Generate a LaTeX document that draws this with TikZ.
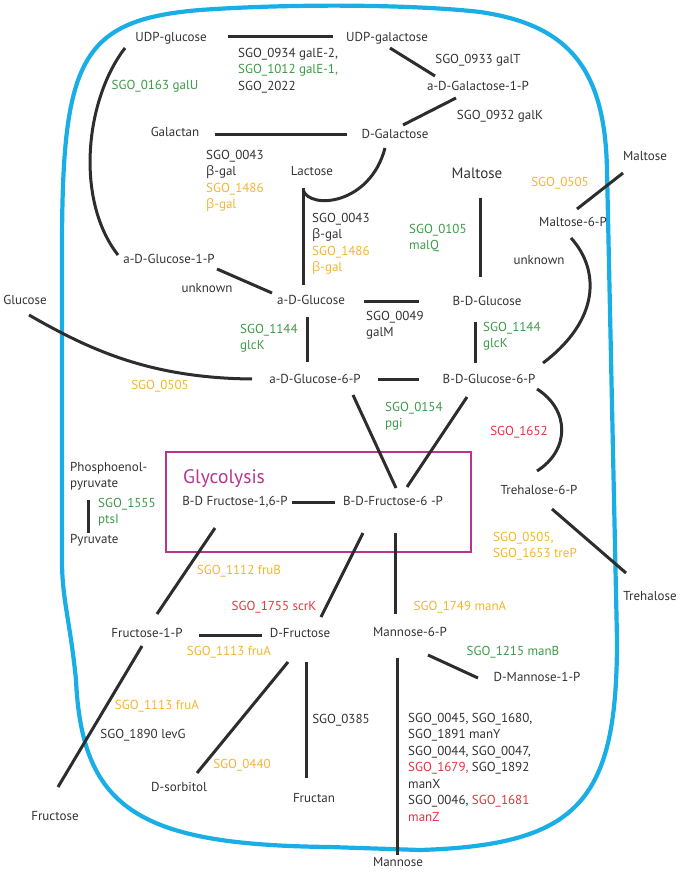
\documentclass[tikz,border=0pt]{standalone}
\usepackage{fontspec}
\setmainfont{PT Sans}
\newfontfamily\grk{Open Sans}
\usetikzlibrary{calc}
\definecolor{txt}{HTML}{333333}
\definecolor{grn}{HTML}{3E9A48}
\definecolor{yel}{HTML}{F3B52F}
\definecolor{red}{HTML}{E5323F}
\definecolor{mag}{HTML}{B8348F}
\definecolor{blu}{HTML}{19AEE6}
\definecolor{lin}{HTML}{2D2D2D}
\newcommand\lbl{\fontsize{13}{16.5}\selectfont}
\newcommand\bg{{\grk β}}
\begin{document}
\begin{tikzpicture}[x=1pt,y=-1pt,
  lab/.style={font=\lbl, text=txt, inner sep=0pt, text height=9pt, text depth=3pt},
  blk/.style={font=\lbl, text=txt, inner sep=0pt, align=left, anchor=north west},
  conn/.style={line width=3pt, draw=lin},
  membrane/.style={line width=4.2pt, draw=blu}]
\useasboundingbox (0,0) rectangle (685,877);
% cell membrane
\draw[membrane] (62,560) -- (62,250) .. controls (62,60) and (80,20) .. (200,10)
  .. controls (300,3) and (420,5) .. (480,12)
  .. controls (570,25) and (605,70) .. (607,170)
  -- (617,640) .. controls (617,800) and (580,845) .. (420,850)
  -- (330,847) .. controls (140,845) and (82,810) .. (76,680)
  .. controls (70,620) and (62,600) .. (62,560) -- cycle;
% glycolysis box
\node[draw=mag, line width=1.5pt, minimum width=305pt, minimum height=100pt, inner sep=0pt] (glybox) at (318.5,502) {};
\node[font=\fontsize{19.5}{22}\selectfont, text=mag, inner sep=0pt, anchor=base west] (glyco) at (183,483) {Glycolysis};
% nodes
\node[lab] (udpglc) at (171,39) {UDP-glucose};
\node[lab] (udpgal) at (387,39) {UDP-galactose};
\node[blk] (galE) at (238,48) {SGO\_0934 galE-2,\\\textcolor{grn}{SGO\_1012 galE-1,}\\SGO\_2022};
\node[lab,text=grn] (galU) at (155,87) {SGO\_0163 galU};
\node[lab] (galT) at (478,61) {SGO\_0933 galT};
\node[lab] (agal1p) at (478,88) {a-D-Galactose-1-P};
\node[lab] (galK) at (500,117) {SGO\_0932 galK};
\node[lab] (galactan) at (175,134) {Galactan};
\node[lab] (dgal) at (395,136) {D-Galactose};
\node[blk] (bgalA) at (206,150) {SGO\_0043\\\bg-gal\\\textcolor{yel}{SGO\_1486}\\\textcolor{yel}{\bg-gal}};
\node[lab] (lactose) at (312,173) {Lactose};
\node[blk] (bgalB) at (312,213) {SGO\_0043\\\bg-gal\\\textcolor{yel}{SGO\_1486}\\\textcolor{yel}{\bg-gal}};
\node[lab,font=\fontsize{15}{17}\selectfont] (maltoseC) at (477,176) {Maltose};
\node[lab] (maltoseR) at (645,158) {Maltose};
\node[lab,text=yel] (s0505a) at (560,184) {SGO\_0505};
\node[lab] (malt6p) at (573,224) {Maltose-6-P};
\node[lab] (unkR) at (539,261) {unknown};
\node[blk,text=grn] (malQ) at (409,224) {SGO\_0105\\malQ};
\node[lab] (aglc1p) at (169,260) {a-D-Glucose-1-P};
\node[lab] (unkL) at (207,289) {unknown};
\node[lab] (aglc) at (311,301) {a-D-Glucose};
\node[blk] (galM) at (366,311) {SGO\_0049\\galM};
\node[lab] (bglc) at (487,302) {B-D-Glucose};
\node[blk,text=grn] (glcKL) at (240,324) {SGO\_1144\\glcK};
\node[blk,text=grn] (glcKR) at (483,322) {SGO\_1144\\glcK};
\node[lab] (glucose) at (25,301) {Glucose};
\node[lab,text=yel] (s0505b) at (160,386) {SGO\_0505};
\node[lab] (aglc6p) at (315,380) {a-D-Glucose-6-P};
\node[lab] (bglc6p) at (489,380) {B-D-Glucose-6-P};
\node[blk,text=grn] (pgi) at (385,402) {SGO\_0154\\pgi};
\node[lab,text=red] (s1652) at (519,432) {SGO\_1652};
\node[lab] (tre6p) at (539,491) {Trehalose-6-P};
\node[lab] (trehalose) at (650,597) {Trehalose};
\node[blk,text=yel] (treP) at (493,532) {SGO\_0505,\\SGO\_1653 treP};
\node[lab] (fru16p) at (235,502) {B-D Fructose-1,6-P};
\node[lab] (fru6p) at (393,502) {B-D-Fructose-6 -P};
\node[blk] (pep) at (70,462) {Phosphoenol-\\pyruvate};
\node[lab,anchor=west] (pyruvate) at (70,540) {Pyruvate};
\node[blk,text=grn] (ptsI) at (98,498) {SGO\_1555\\ptsI};
\node[lab,text=yel] (fruB) at (239,571) {SGO\_1112 fruB};
\node[lab,text=red] (scrK) at (274,607) {SGO\_1755 scrK};
\node[lab,text=yel] (manA) at (460,607) {SGO\_1749 manA};
\node[lab] (fru1p) at (147,634) {Fructose-1-P};
\node[lab] (dfru) at (300,634) {D-Fructose};
\node[lab,text=yel] (fruA1) at (229,652) {SGO\_1113 fruA};
\node[lab] (man6p) at (410,633) {Mannose-6-P};
\node[lab,text=grn] (manB) at (513,652) {SGO\_1215 manB};
\node[lab] (dman1p) at (537,678) {D-Mannose-1-P};
\node[lab] (fructose) at (55,817) {Fructose};
\node[lab,text=yel] (fruA2) at (157,706) {SGO\_1113 fruA};
\node[lab] (levG) at (143,735) {SGO\_1890 levG};
\node[lab,text=yel] (s0440) at (242,765) {SGO\_0440};
\node[lab] (dsorb) at (179,788) {D-sorbitol};
\node[lab] (s0385) at (341,720) {SGO\_0385};
\node[lab] (fructan) at (314,799) {Fructan};
\node[lab] (mannose) at (398,863) {Mannose};
\node[blk] (manblk) at (408,713) {SGO\_0045, SGO\_1680,\\SGO\_1891 manY\\SGO\_0044, SGO\_0047,\\\textcolor{red}{SGO\_1679,} SGO\_1892\\manX\\SGO\_0046, \textcolor{red}{SGO\_1681}\\\textcolor{red}{manZ}};
% connectors
\draw[conn] ([shift={(57,-2)}]udpglc.center) -- ([shift={(-54,-2)}]udpgal.center);
\draw[conn] ([shift={(3,9)}]udpgal.center) -- ([shift={(-43,-12)}]agal1p.center);
\draw[conn] ([shift={(-22,10)}]agal1p.center) -- ([shift={(8,-11)}]dgal.center);
\draw[conn] ([shift={(40,1)}]galactan.center) -- ([shift={(-48,-1)}]dgal.center);
\draw[conn] ([shift={(-46,9)}]udpglc.center) .. controls (85,100) and (75,200) .. ([shift={(-51,-5)}]aglc1p.center);
\draw[conn] ([shift={(-9,15)}]lactose.center) -- ([shift={(-8,-16)}]aglc.center);
\draw[conn] ([shift={(-9,17)}]lactose.center) .. controls (310,210) and (370,205) .. ([shift={(-10,12)}]dgal.center);
\draw[conn] ([shift={(48,9)}]aglc1p.center) -- ([shift={(-39,-8)}]aglc.center);
\draw[conn] ([shift={(53,0)}]aglc.center) -- ([shift={(-68,-1)}]bglc.center);
\draw[conn] ([shift={(3,22)}]maltoseC.center) -- ([shift={(-7,-25)}]bglc.center);
\draw[conn] ([shift={(-22,15)}]maltoseR.center) -- ([shift={(4,-15)}]malt6p.center);
\draw[conn] ([shift={(-2,14)}]malt6p.center) .. controls (600,270) and (600,320) .. ([shift={(54,-17)}]bglc6p.center);
\draw[conn] ([shift={(-4,16)}]aglc.center) -- ([shift={(-8,-18)}]aglc6p.center);
\draw[conn] ([shift={(-12,20)}]bglc.center) -- ([shift={(-14,-17)}]bglc6p.center);
\draw[conn] ([shift={(4,14)}]glucose.center) .. controls (90,350) and (150,378) .. ([shift={(-63,-1)}]aglc6p.center);
\draw[conn] ([shift={(63,-1)}]aglc6p.center) -- ([shift={(-70,-1)}]bglc6p.center);
\draw[conn] ([shift={(38,15)}]aglc6p.center) -- ([shift={(3,-14)}]fru6p.center);
\draw[conn] ([shift={(-22,17)}]bglc6p.center) -- ([shift={(14,-15)}]fru6p.center);
\draw[conn] ([shift={(48,9)}]bglc6p.center) .. controls (570,410) and (570,450) .. ([shift={(-2,-20)}]tre6p.center);
\draw[conn] ([shift={(13,18)}]tre6p.center) -- ([shift={(-24,-24)}]trehalose.center);
\draw[conn] ([shift={(57,0)}]fru16p.center) -- ([shift={(-58,0)}]fru6p.center);
\draw[conn] ([shift={(-20,26)}]fru16p.center) -- ([shift={(10,-20)}]fru1p.center);
\draw[conn] ([shift={(-30,31)}]fru6p.center) -- ([shift={(21,-17)}]dfru.center);
\draw[conn] ([shift={(2,31)}]fru6p.center) -- ([shift={(-15,-19)}]man6p.center);
\draw[conn] ([shift={(52,1)}]fru1p.center) -- ([shift={(-38,1)}]dfru.center);
\draw[conn] ([shift={(18,22)}]man6p.center) -- ([shift={(-59,0)}]dman1p.center);
\draw[conn] ([shift={(-5,12)}]fru1p.center) -- ([shift={(3,-30)}]fructose.center);
\draw[conn] ([shift={(-12,28)}]dfru.center) -- ([shift={(18,-15)}]dsorb.center);
\draw[conn] ([shift={(6,28)}]dfru.center) -- ([shift={(-8,-21)}]fructan.center);
\draw[conn] ([shift={(-13,25)}]man6p.center) -- ([shift={(-1,-8)}]mannose.center);
\draw[conn] ([shift={(18,38)}]pep.north west) -- ([shift={(18,-7)}]pyruvate.west);
\end{tikzpicture}
\end{document}
